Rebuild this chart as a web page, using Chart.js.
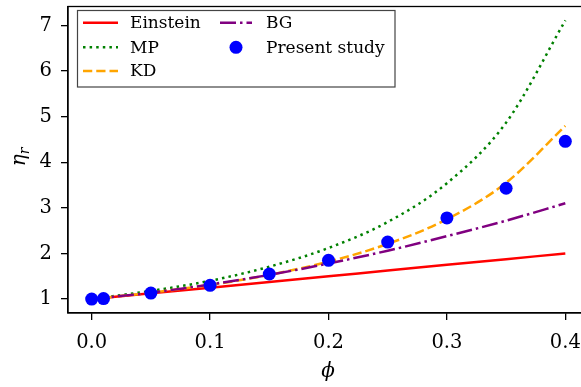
<!DOCTYPE html>
<html>
<head>
<meta charset="utf-8">
<script src="https://cdn.jsdelivr.net/npm/chart.js@4.4.1/dist/chart.umd.min.js"></script>
<style>
  html, body { margin: 0; padding: 0; background: #fff; overflow: hidden; }
  #wrap { width: 600px; height: 387px; }
</style>
</head>
<body>
<div id="wrap"><canvas id="c" width="600" height="387"></canvas></div>
<script>
// volume fraction grid used for the model curves
const phiGrid = [0, 0.05, 0.1, 0.15, 0.2, 0.25, 0.3, 0.35, 0.4];
const einstein = [1.00, 1.125, 1.25, 1.375, 1.50, 1.625, 1.75, 1.875, 2.00];
const mp = [1.00, 1.18, 1.40, 1.71, 2.12, 2.69, 3.54, 4.87, 7.11];
const kd = [1.00, 1.14, 1.31, 1.53, 1.82, 2.21, 2.75, 3.55, 4.80];
const bg = [1.00, 1.14, 1.32, 1.53, 1.78, 2.06, 2.38, 2.72, 3.10];

// present study points
const studyPhi = [0, 0.01, 0.05, 0.1, 0.15, 0.2, 0.25, 0.3, 0.35, 0.4];
const studyEta = [1.00, 1.01, 1.13, 1.30, 1.55, 1.85, 2.25, 2.78, 3.43, 4.46];

const xTicks = [0, 0.1, 0.2, 0.3, 0.4];
const yTicks = [1, 2, 3, 4, 5, 6, 7];

const SERIF = '"DejaVu Serif", serif';

const pts = (xs, ys) => xs.map((x, i) => ({ x: x, y: ys[i] }));

function curve(label, ys, color, dash, order) {
  return {
    label: label,
    data: pts(phiGrid, ys),
    showLine: true,
    borderColor: color,
    backgroundColor: color,
    borderWidth: 2.5,
    borderDash: dash,
    borderCapStyle: 'butt',
    pointRadius: 0,
    cubicInterpolationMode: 'monotone',
    fill: false,
    order: order
  };
}

// legend drawn like matplotlib (2 columns, column-major)
const mplLegend = {
  id: 'mplLegend',
  afterDraw(chart) {
    const ctx = chart.ctx;
    ctx.save();
    ctx.fillStyle = 'rgba(255,255,255,0.9)';
    ctx.fillRect(77, 10, 318, 77);
    ctx.strokeStyle = '#444';
    ctx.lineWidth = 1.2;
    ctx.strokeRect(77.5, 10.5, 317.5, 76.5);
    const rows = [22.7, 47.3, 71];
    const cols = [{ h0: 83, h1: 118, tx: 130 }, { h0: 220, h1: 252, tx: 266 }];
    ctx.font = '17px ' + SERIF;
    ctx.textBaseline = 'middle';
    chart.data.datasets.forEach((ds, i) => {
      const col = cols[Math.floor(i / 3)];
      const y = rows[i % 3];
      if (ds.showLine) {
        ctx.strokeStyle = ds.borderColor;
        ctx.lineWidth = ds.borderWidth;
        ctx.setLineDash(ds.borderDash || []);
        ctx.lineCap = 'butt';
        ctx.beginPath();
        ctx.moveTo(col.h0, y);
        ctx.lineTo(col.h1, y);
        ctx.stroke();
        ctx.setLineDash([]);
      } else {
        ctx.fillStyle = ds.backgroundColor;
        ctx.beginPath();
        ctx.arc((col.h0 + col.h1) / 2, y, ds.pointRadius, 0, Math.PI * 2);
        ctx.fill();
      }
      ctx.fillStyle = '#000';
      ctx.fillText(ds.label, col.tx, y + 1);
    });
    ctx.restore();
  }
};

// frame + axis titles
const frame = {
  id: 'frame',
  afterDatasetsDraw(chart) {
    const a = chart.chartArea;
    const ctx = chart.ctx;
    ctx.save();
    ctx.strokeStyle = '#000';
    ctx.lineWidth = 1.3;
    ctx.strokeRect(a.left, a.top, a.right - a.left, a.bottom - a.top);
    ctx.restore();
  },
  afterDraw(chart) {
    const ctx = chart.ctx;
    ctx.save();
    ctx.fillStyle = '#000';
    ctx.textAlign = 'center';
    ctx.textBaseline = 'middle';
    ctx.font = 'italic 20px ' + SERIF;
    ctx.fillText('ϕ', 328, 372);
    // eta_r, rotated
    ctx.translate(20, 157);
    ctx.rotate(-Math.PI / 2);
    ctx.textAlign = 'left';
    ctx.textBaseline = 'alphabetic';
    ctx.font = 'italic 20px ' + SERIF;
    const w1 = ctx.measureText('η').width;
    ctx.font = 'italic 14px ' + SERIF;
    const w2 = ctx.measureText('r').width;
    const x0 = -(w1 + w2) / 2;
    ctx.font = 'italic 20px ' + SERIF;
    ctx.fillText('η', x0, 5);
    ctx.font = 'italic 14px ' + SERIF;
    ctx.fillText('r', x0 + w1, 9);
    ctx.restore();
  }
};

new Chart(document.getElementById('c'), {
  type: 'scatter',
  data: {
    datasets: [
      curve('Einstein', einstein, '#ff0000', [], 4),
      curve('MP', mp, '#008000', [2.5, 4.1], 3),
      curve('KD', kd, '#ffa500', [9.25, 4], 2),
      curve('BG', bg, '#800080', [16, 4, 2.5, 4], 1),
      {
        label: 'Present study',
        data: pts(studyPhi, studyEta),
        showLine: false,
        pointRadius: 6.5,
        pointBackgroundColor: '#0000ff',
        backgroundColor: '#0000ff',
        borderColor: '#0000ff',
        pointBorderWidth: 0,
        order: 0
      }
    ]
  },
  options: {
    responsive: false,
    animation: false,
    devicePixelRatio: 1,
    layout: { padding: { top: 1, right: 11, left: 0, bottom: 0 } },
    plugins: { legend: { display: false }, tooltip: { enabled: false } },
    scales: {
      x: {
        type: 'linear',
        min: -0.02,
        max: 0.42,
        afterBuildTicks: (s) => { s.ticks = xTicks.map((v) => ({ value: v })); },
        afterFit: (s) => { s.height = 74; s.paddingLeft = 0; s.paddingRight = 0; },
        ticks: {
          color: '#000',
          padding: 11,
          maxRotation: 0,
          font: { family: SERIF, size: 19.5 },
          callback: (v) => Number(v).toFixed(1)
        },
        grid: { drawOnChartArea: false, drawTicks: true, tickLength: 7, color: '#000', lineWidth: 1.3 },
        border: { display: true, color: '#000', width: 1.3 }
      },
      y: {
        type: 'linear',
        min: 0.694,
        max: 7.417,
        afterBuildTicks: (s) => { s.ticks = yTicks.map((v) => ({ value: v })); },
        afterFit: (s) => { s.width = 68; s.paddingTop = 0; s.paddingBottom = 0; },
        ticks: {
          color: '#000',
          padding: 9,
          font: { family: SERIF, size: 19.5 },
          callback: (v) => String(v)
        },
        grid: { drawOnChartArea: false, drawTicks: true, tickLength: 7, color: '#000', lineWidth: 1.3 },
        border: { display: true, color: '#000', width: 1.3 }
      }
    }
  },
  plugins: [frame, mplLegend]
});
</script>
</body>
</html>
